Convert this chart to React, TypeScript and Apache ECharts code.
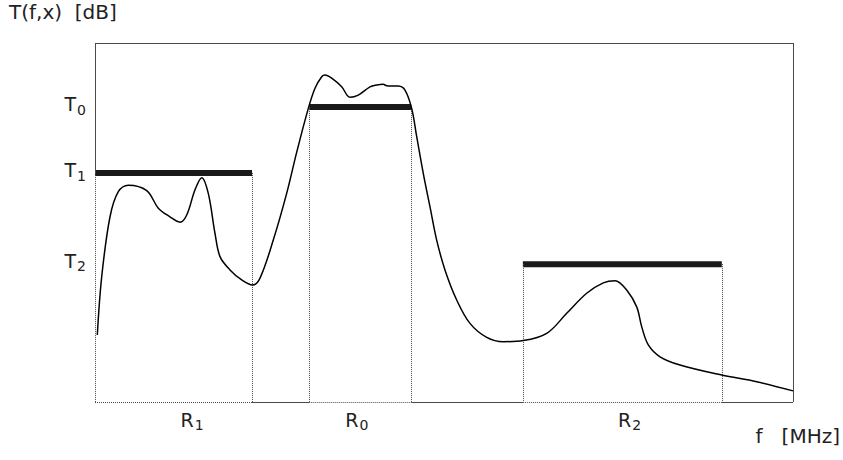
import React, { useEffect, useRef } from "react";
import * as echarts from "echarts";

// Curve T(f,x): [f (0..100), T (0..100)]
const curveX = [0.33, 0.96, 2.15, 3.34, 4.77, 7.41, 9.07, 10.74, 12.18, 13.14, 14.33, 15.29, 16.23, 17.19, 17.91, 19.34, 21.02, 22.59, 23.64, 25.54, 27.46, 28.9, 30.56, 31.52, 32.48, 32.95, 33.91, 35.34, 36.53, 37.72, 39.4, 40.36, 41.3, 41.79, 43.45, 44.41, 45.37, 46.09, 47.03, 47.99, 48.95, 50.14, 51.82, 53.72, 56.12, 58.5, 61.36, 64.71, 67.58, 70.44, 72.82, 74.5, 76.17, 77.61, 78.32, 79.27, 80.95, 83.81, 89.78, 94.8, 100];
const curveY = [18.66, 34.9, 51.6, 58.6, 60.4, 58.9, 54.0, 51.6, 50.1, 52.1, 59.1, 62.5, 58.1, 47.0, 40.5, 36.8, 34.0, 32.6, 34.5, 45.1, 58.1, 69.6, 81.8, 87.4, 90.6, 91.1, 90.2, 87.8, 84.9, 85.5, 87.8, 88.3, 88.5, 88.1, 88.0, 86.9, 81.8, 73.9, 63.7, 54.4, 45.1, 36.8, 28.4, 21.9, 18.0, 16.8, 17.1, 19.1, 24.7, 30.3, 33.2, 33.8, 31.2, 26.5, 21.0, 15.9, 12.6, 10.3, 7.5, 5.65, 3.1];

// Threshold levels
const levelNames = ["T0", "T1", "T2"];
const levelValues = [82.2, 63.8, 38.4];
const levelLabelValues = [83.0, 64.6, 39.4];

// Regions: [start, end, level]
const regionNames = ["R1", "R0", "R2"];
const regionStart = [0, 30.7, 61.3];
const regionEnd = [22.5, 45.3, 89.8];
const regionLevel = [levelValues[1], levelValues[0], levelValues[2]];
const regionLabelPos = [13.9, 37.5, 76.6];

const X_MAX = 100;
const Y_MAX = 100;

const FONT = "DejaVu Sans";

export default function App() {
  const ref = useRef<HTMLDivElement>(null);
  useEffect(() => {
    if (!ref.current) return;
    const chart = echarts.init(ref.current, null, { renderer: "svg" });

    const curveData = curveX.map((x, i) => [x, curveY[i]]);
    const borderColor = "#4a4a4a";
    const solid = { color: borderColor, width: 1, type: "solid" as const };
    const dotted = { color: borderColor, width: 1, type: [1, 1] as any };

    const seg = (x1: number, y1: number, x2: number, y2: number, ls: any) => [
      { coord: [x1, y1], lineStyle: ls },
      { coord: [x2, y2] },
    ];

    const borders: any[] = [
      seg(0, Y_MAX, X_MAX, Y_MAX, solid),
      seg(X_MAX, Y_MAX, X_MAX, 0, solid),
      seg(0, Y_MAX, 0, regionLevel[0], solid),
    ];
    let prev = 0;
    regionStart.forEach((s, i) => {
      if (s > prev) borders.push(seg(prev, 0, s, 0, solid));
      borders.push(seg(s, 0, regionEnd[i], 0, dotted));
      borders.push(seg(s, regionLevel[i], s, 0, dotted));
      borders.push(seg(regionEnd[i], regionLevel[i], regionEnd[i], 0, dotted));
      prev = regionEnd[i];
    });
    if (prev < X_MAX) borders.push(seg(prev, 0, X_MAX, 0, solid));

    const barSeries = regionNames.map((name, i) => ({
      type: "line",
      name,
      data: [
        [regionStart[i], regionLevel[i]],
        [regionEnd[i], regionLevel[i]],
      ],
      symbol: "none",
      lineStyle: { color: "#1a1a1a", width: 6, cap: "butt" },
      z: 4,
      silent: true,
    }));

    const subRich = {
      t: { fontSize: 19, fontFamily: FONT, color: "#222" },
      s: { fontSize: 14, fontFamily: FONT, color: "#222", padding: [11, 0, 0, 1] },
    };

    chart.setOption({
      animation: false,
      grid: { left: 95, right: 50, top: 43, bottom: 58, containLabel: false },
      xAxis: {
        type: "value",
        min: 0,
        max: X_MAX,
        axisLine: { show: false },
        axisTick: { show: false },
        splitLine: { show: false },
        axisLabel: {
          customValues: regionLabelPos,
          margin: 5,
          formatter: (v: number) => {
            const i = regionLabelPos.findIndex((p) => Math.abs(p - v) < 1e-6);
            if (i < 0) return "";
            return `{t|R}{s|${regionNames[i].slice(1)}}`;
          },
          rich: subRich,
        },
      },
      yAxis: {
        type: "value",
        min: 0,
        max: Y_MAX,
        axisLine: { show: false },
        axisTick: { show: false },
        splitLine: { show: false },
        axisLabel: {
          customValues: levelLabelValues,
          margin: 9,
          formatter: (v: number) => {
            const i = levelLabelValues.findIndex((p) => Math.abs(p - v) < 1e-6);
            if (i < 0) return "";
            return `{t|T}{s|${levelNames[i].slice(1)}}`;
          },
          rich: subRich,
        },
      },
      graphic: [
        {
          type: "text",
          left: 9,
          top: 2,
          style: { text: "T(f,x)  [dB]", fontSize: 20, fontFamily: FONT, fill: "#222" },
        },
        {
          type: "text",
          right: 3,
          top: 426,
          style: { text: "f   [MHz]", fontSize: 20, fontFamily: FONT, fill: "#222" },
        },
      ],
      series: [
        {
          type: "line",
          name: "borders",
          data: [],
          silent: true,
          markLine: {
            symbol: "none",
            silent: true,
            label: { show: false },
            emphasis: { disabled: true },
            data: borders,
          },
        },
        ...barSeries,
        {
          type: "line",
          name: "T",
          data: curveData,
          symbol: "none",
          smooth: 0.35,
          lineStyle: { color: "#000", width: 1.5 },
          z: 5,
          silent: true,
        },
      ],
    });
    return () => chart.dispose();
  }, []);
  return (
    <div
      ref={ref}
      style={{ position: "absolute", left: 0, top: 0, width: 843, height: 460, background: "#fff" }}
    />
  );
}
